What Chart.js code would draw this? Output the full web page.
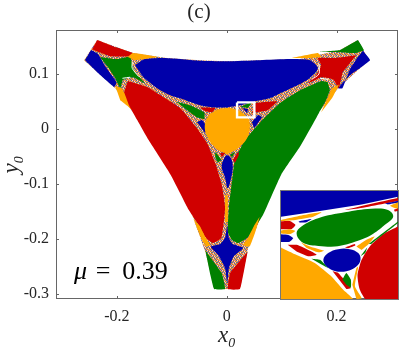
<!DOCTYPE html>
<html lang="en">
<head>
<meta charset="UTF-8">
<title>Basins (c)</title>
<script src="https://cdn.jsdelivr.net/npm/chart.js"></script>
<style>
    body { margin: 0; background: #fff; }
    #wrap { position: relative; width: 399px; height: 350px; }
    #inset { position: absolute; left: 281px; top: 191px; }
    #insetFrame { position: absolute; left: 280px; top: 190px; width: 117px; height: 108px; border: 1px solid #777; }
</style>
</head>
<body>
<div id="wrap">
    <canvas id="main" width="399" height="350"></canvas>
    <div id="insetFrame"></div>
    <canvas id="inset" width="117" height="108"></canvas>
</div>
<script>
    const FONT = '"Liberation Serif", serif';
    const xTicks = [-0.2, 0, 0.2];
    const xTickLabels = ['-0.2', '0', '0.2'];
    const yTicks = [0.1, 0, -0.1, -0.2, -0.3];
    const yTickLabels = ['0.1', '0', '-0.1', '-0.2', '-0.3'];
    const xRange = [-0.311, 0.312];
    const yRange = [-0.31, 0.18];
    const muLabel = ['\u03bc', ' \u200a=\u2009 0.39'];

    // basin outlines, [x0, y0]
    const outline = [[-0.236,0.162],[-0.171,0.138],[-0.109,0.129],[-0.049,0.125],[-0.001,0.123],[0.061,0.125],[0.133,0.127],[0.206,0.143],[0.239,0.162],[0.259,0.125],[0.203,0.074],[0.166,0.029],[0.133,-0.030],[0.097,-0.084],[0.064,-0.157],[0.039,-0.217],[0.030,-0.261],[0.024,-0.292],[-0.023,-0.292],[-0.027,-0.272],[-0.039,-0.224],[-0.063,-0.157],[-0.100,-0.084],[-0.140,-0.021],[-0.167,0.025],[-0.203,0.074],[-0.260,0.125]];
    const bigBlue = [[-0.167,0.116],[-0.149,0.127],[-0.112,0.129],[-0.049,0.124],[-0.001,0.123],[0.061,0.125],[0.115,0.127],[0.152,0.125],[0.166,0.112],[0.164,0.105],[0.148,0.090],[0.130,0.080],[0.102,0.067],[0.079,0.056],[0.048,0.049],[0.024,0.043],[-0.001,0.039],[-0.025,0.039],[-0.049,0.043],[-0.080,0.054],[-0.103,0.061],[-0.127,0.074],[-0.152,0.094]];
    const redTopLeft = [[-0.236,0.162],[-0.203,0.149],[-0.171,0.138],[-0.176,0.132],[-0.211,0.132],[-0.234,0.140],[-0.245,0.145]];
    const blueLeft = [[-0.258,0.125],[-0.247,0.143],[-0.234,0.136],[-0.220,0.112],[-0.201,0.085],[-0.205,0.076],[-0.234,0.101]];
    const greenLeft = [[-0.231,0.131],[-0.200,0.127],[-0.176,0.131],[-0.172,0.116],[-0.167,0.103],[-0.149,0.083],[-0.171,0.094],[-0.189,0.089],[-0.194,0.074],[-0.203,0.092],[-0.216,0.112]];
    const orangeTopLeft = [[-0.180,0.131],[-0.171,0.138],[-0.127,0.131],[-0.152,0.127],[-0.167,0.125]];
    const orangeLowLeft = [[-0.203,0.078],[-0.192,0.074],[-0.174,0.047],[-0.167,0.029],[-0.180,0.041],[-0.194,0.052]];
    const bigRed = [[-0.180,0.087],[-0.145,0.076],[-0.116,0.058],[-0.085,0.038],[-0.054,0.001],[-0.036,-0.026],[-0.021,-0.062],[-0.009,-0.102],[-0.003,-0.143],[-0.005,-0.166],[-0.010,-0.199],[-0.025,-0.208],[-0.039,-0.197],[-0.050,-0.177],[-0.069,-0.148],[-0.102,-0.084],[-0.142,-0.021],[-0.163,0.016],[-0.178,0.043],[-0.187,0.067]];
    const centreStrip = [[-0.003,-0.121],[0.002,-0.121],[0.002,-0.170],[-0.003,-0.170]];
    const greenUpperLeft = [[-0.091,0.049],[-0.067,0.043],[-0.041,0.030],[-0.041,0.018],[-0.054,0.021],[-0.072,0.034]];
    const redUpperLeft = [[-0.049,0.039],[-0.021,0.038],[-0.027,0.030],[-0.039,0.032]];
    const blueUpperLeft = [[-0.054,0.012],[-0.045,0.016],[-0.036,0.001],[-0.039,-0.008]];
    const orangeCircle = [[0.001,0.038],[0.024,0.032],[0.039,0.019],[0.042,0.001],[0.037,-0.017],[0.024,-0.032],[0.010,-0.042],[0.001,-0.046],[-0.009,-0.042],[-0.023,-0.032],[-0.034,-0.017],[-0.040,0.001],[-0.036,0.019],[-0.023,0.032]];
    const bigGreen = [[0.184,0.085],[0.173,0.087],[0.133,0.070],[0.097,0.047],[0.061,0.012],[0.033,-0.021],[0.015,-0.057],[0.010,-0.093],[0.004,-0.143],[0.002,-0.188],[0.010,-0.203],[0.021,-0.208],[0.039,-0.197],[0.066,-0.157],[0.099,-0.084],[0.135,-0.030],[0.168,0.029],[0.180,0.050],[0.188,0.070]];
    const greenTopRight = [[0.239,0.162],[0.250,0.143],[0.234,0.138],[0.197,0.140],[0.170,0.140],[0.206,0.143]];
    const blueTopRight = [[0.248,0.142],[0.261,0.125],[0.225,0.098],[0.203,0.074],[0.211,0.074],[0.225,0.110],[0.239,0.131]];
    const redRight = [[0.236,0.134],[0.197,0.129],[0.166,0.129],[0.172,0.116],[0.163,0.098],[0.148,0.083],[0.173,0.094],[0.194,0.090],[0.204,0.074],[0.211,0.103]];
    const orangeTopRight = [[0.119,0.129],[0.166,0.138],[0.172,0.131],[0.148,0.129]];
    const orangeLowRight = [[0.172,0.030],[0.192,0.074],[0.204,0.080],[0.192,0.056]];
    const redTriangle = [[0.052,0.047],[0.092,0.050],[0.075,0.034],[0.046,0.029]];
    const greenBox = [[0.024,0.040],[0.046,0.049],[0.039,0.038]];
    const blueBox = [[0.028,0.038],[0.039,0.036],[0.037,0.029]];
    const blueRightCircle = [[0.046,0.012],[0.057,0.025],[0.064,0.021],[0.050,0.001]];
    const blueOval = [[0.001,-0.048],[-0.005,-0.054],[-0.009,-0.070],[-0.003,-0.089],[0.002,-0.108],[0.008,-0.089],[0.011,-0.070],[0.008,-0.054]];
    const greenUnderLeft = [[-0.021,-0.042],[-0.010,-0.057],[-0.016,-0.061],[-0.021,-0.052]];
    const redUnderLeft = [[-0.012,-0.044],[-0.003,-0.044],[-0.009,-0.052]];
    const redUnderRight = [[0.011,-0.057],[0.021,-0.042],[0.022,-0.048],[0.015,-0.062]];
    const greenUnderRight = [[0.006,-0.048],[0.015,-0.042],[0.010,-0.052]];
    const blueStar = [[0.001,-0.175],[0.004,-0.199],[0.011,-0.210],[0.030,-0.217],[0.013,-0.232],[0.004,-0.254],[0.001,-0.281],[-0.003,-0.254],[-0.014,-0.232],[-0.029,-0.215],[-0.012,-0.210],[-0.003,-0.199]];
    const greenLow = [[-0.039,-0.221],[-0.009,-0.263],[-0.003,-0.292],[-0.023,-0.292],[-0.031,-0.261]];
    const redLow = [[0.038,-0.224],[0.006,-0.263],[0.002,-0.292],[0.024,-0.292],[0.031,-0.261]];
    const orangeLowA = [[-0.060,-0.165],[-0.049,-0.177],[-0.039,-0.197],[-0.030,-0.212],[-0.036,-0.214],[-0.043,-0.206],[-0.052,-0.186]];
    const orangeLowB = [[0.060,-0.160],[0.052,-0.188],[0.042,-0.214],[0.030,-0.212],[0.038,-0.200],[0.050,-0.176]];

    const seamWhiteA = [[-0.172,0.122],[-0.172,0.110],[-0.160,0.095]];
    const seamWhiteB = [[0.168,0.118],[0.168,0.100],[0.155,0.090]];
    const seamWhiteC = [[-0.190,0.092],[-0.176,0.094]];
    const seamWhiteD = [[0.170,0.092],[0.185,0.090]];

    const zoomBox = [[0.0188,0.0481],[0.0503,0.0481],[0.0503,0.0208],[0.0188,0.0208],[0.0188,0.0481]];

    // inset, x0 and y0 in thousandths
    const insetXRange = [18.8, 50.3];
    const insetYRange = [20.8, 48.1];
    const inBlueTop = [[18,49],[51,49],[51,46.8],[40.5,44.7],[29.7,43.1],[18,41.5]];
    const inRedThin = [[36.0,43.3],[50.3,46.3],[50.3,45.6],[39.6,43.7]];
    const inBlueThin = [[46.7,45.0],[50.3,45.6],[50.3,45.2],[47.6,44.7]];
    const inOrangeTip = [[48.1,44.4],[50.3,45.2],[50.3,43.6],[49.0,43.9]];
    const inRedTip = [[49.2,43.4],[50.3,43.7],[50.3,43.1],[49.4,42.9]];
    const inOrangeTop = [[18.8,40.8],[24.3,41.9],[29.7,42.7],[27.5,41.6],[22.6,40.8],[18.8,40.5]];
    const inBlueStrip = [[23.5,40.4],[27.0,41.0],[25.7,40.2],[23.9,40.1]];
    const inGreen = [[23.0,37.4],[24.3,39.1],[28.8,41.2],[36.0,42.7],[43.1,43.6],[47.6,43.3],[49.0,41.6],[46.7,39.5],[43.1,37.0],[38.7,35.3],[33.3,34.1],[27.9,34.3],[24.3,35.3]];
    const inRedLeft = [[18,40.4],[21.2,40.5],[22.7,39.5],[21.7,38.5],[18,38.4]];
    const inOrangeLeft = [[18,38.0],[21.2,38.4],[22.6,38.0],[21.2,37.2],[18,37.4]];
    const inBlueLeft = [[18,37.2],[20.8,37.0],[22.1,36.2],[21.2,35.3],[18,35.2]];
    const inRedStripe = [[20.6,34.5],[23.0,34.5],[26.6,33.0],[28.4,32.0],[26.1,31.6],[23.0,32.8]];
    const inOrangeStripe = [[24.2,35.1],[26.6,34.1],[30.4,33.0],[28.8,32.6],[25.7,33.7]];
    const inOrangeBig = [[18,34.2],[22.6,32.1],[27.9,29.9],[32.4,26.5],[35.5,23.2],[38.4,20.4],[18,20]];
    const inGreenThin = [[27.0,31.0],[29.3,30.7],[31.5,28.6],[29.7,29.5]];
    const inRedLow = [[32.7,27.8],[34.2,27.4],[37.6,23.6],[36.4,23.3]];
    const inBlueCentre = [[30.2,30.7],[31.5,32.4],[34.2,33.4],[37.3,33.4],[39.6,32.4],[40.2,30.7],[39.1,29.0],[36.4,27.8],[33.3,27.9],[31.1,29.0]];
    const inRedSmall = [[36.0,33.8],[38.7,34.7],[38.8,34.3],[36.9,33.6]];
    const inOrangeSmall = [[39.1,34.1],[41.8,35.8],[44.0,36.6],[42.2,34.5],[40.5,33.2]];
    const inGreenLow = [[35.3,25.7],[36.4,27.4],[37.6,25.7],[37.6,23.7],[36.4,24.4]];
    const inOrangeRight = [[38.0,24.4],[39.1,28.6],[39.6,29.0],[38.7,24.0],[40.5,21.0],[39.1,20.8]];
    const inRedBig = [[50.3,39.1],[46.7,37.4],[42.7,34.1],[40.5,30.7],[39.4,26.9],[40.0,23.2],[42,20.4],[51,20],[51,39.2]];
    const inGreenEdge = [[40.3,31.7],[42.0,33.8],[41.5,32.4]];
    const inGreenRight = [[42.4,34.7],[50.3,40.4],[50.3,40.0],[43.1,34.7]];

    const BLUE = '#0000aa', RED = '#d00000', GREEN = '#008000', ORANGE = '#ffa800';

    // speckle for the fractal seams, softened since they blur together at this size
    function speckle() {
        const a = '#e8a850', b = '#5858b8', c = '#d86848', d = '#f4dcc0', e = '#70905c';
        const cells = [
            [a, b, d, c, a],
            [c, a, a, b, d],
            [d, e, b, a, c],
            [a, c, a, d, b],
            [b, a, c, a, a]
        ];
        const tile = document.createElement('canvas');
        tile.width = tile.height = 5;
        const g = tile.getContext('2d');
        cells.forEach((row, j) => row.forEach((col, i) => {
            g.fillStyle = col;
            g.fillRect(i, j, 1, 1);
        }));
        return g.createPattern(tile, 'repeat');
    }

    function toPoints(list) {
        return list.map(p => ({ x: p[0], y: p[1] }));
    }

    function region(list, color, tension) {
        const t = tension === undefined ? 0.15 : tension;
        // ovals: wrap the ends so the curve has no corner where it closes
        const pts = t >= 0.3 ? [list[list.length - 1], ...list, list[0], list[1]] : list;
        return { data: toPoints(pts), showLine: true, fill: 'shape', backgroundColor: color, borderWidth: 0, pointRadius: 0, tension: t };
    }

    function seam(list, color) {
        return { data: toPoints(list), showLine: true, fill: false, borderColor: color, borderWidth: 1, pointRadius: 0, tension: 0.3 };
    }

    // painted in this order, later entries on top
    const mainSets = [
        region(outline, speckle(), 0),
        region(bigBlue, BLUE, 0.2), region(redTopLeft, RED, 0.1), region(blueLeft, BLUE, 0.1), region(greenLeft, GREEN),
        region(orangeTopLeft, ORANGE, 0.1), region(orangeLowLeft, ORANGE, 0.1), region(bigRed, RED, 0.15), region(centreStrip, ORANGE, 0),
        region(greenUpperLeft, GREEN), region(redUpperLeft, RED), region(blueUpperLeft, BLUE),
        region(bigGreen, GREEN, 0.15), region(greenTopRight, GREEN, 0.1), region(blueTopRight, BLUE, 0.1), region(redRight, RED),
        region(orangeTopRight, ORANGE, 0.1), region(orangeLowRight, ORANGE, 0.1), region(redTriangle, RED, 0.1), region(greenBox, GREEN, 0.1), region(blueBox, BLUE, 0.1),
        region(blueRightCircle, BLUE), region(orangeCircle, ORANGE, 0.4), region(blueOval, BLUE, 0.4),
        region(greenUnderLeft, GREEN), region(redUnderLeft, RED), region(redUnderRight, RED), region(greenUnderRight, GREEN),
        region(blueStar, BLUE, 0.15), region(greenLow, GREEN, 0.1), region(redLow, RED, 0.1), region(orangeLowA, ORANGE, 0.1), region(orangeLowB, ORANGE, 0.1),
        seam(seamWhiteA, '#fff'), seam(seamWhiteB, '#fff'), seam(seamWhiteC, '#fff'), seam(seamWhiteD, '#fff'),
        { data: toPoints(zoomBox), showLine: true, fill: false, borderColor: '#fff', borderWidth: 2.4, pointRadius: 0, tension: 0 }
    ];

    const insetSets = [
        region(inBlueTop, BLUE, 0), region(inRedThin, RED, 0.1), region(inBlueThin, BLUE, 0.1), region(inOrangeTip, ORANGE), region(inRedTip, RED),
        region(inOrangeTop, ORANGE, 0.2), region(inBlueStrip, BLUE), region(inGreen, GREEN, 0.4), region(inRedLeft, RED), region(inOrangeLeft, ORANGE), region(inBlueLeft, BLUE),
        region(inRedStripe, RED), region(inOrangeStripe, ORANGE), region(inOrangeBig, ORANGE, 0.15), region(inGreenThin, GREEN), region(inRedLow, RED),
        region(inBlueCentre, BLUE, 0.4), region(inRedSmall, RED), region(inOrangeSmall, ORANGE), region(inGreenLow, GREEN), region(inOrangeRight, ORANGE),
        region(inRedBig, RED, 0.2), region(inGreenEdge, GREEN), region(inGreenRight, GREEN, 0.1)
    ];

    function paintOrder(sets) {
        sets.forEach((d, i) => { d.order = sets.length - i; });
        return sets;
    }

    // matlab style box with inward ticks
    const framePlugin = {
        id: 'frame',
        afterDraw(chart) {
            const { ctx, chartArea: a, scales } = chart;
            ctx.save();
            ctx.strokeStyle = '#666';
            ctx.lineWidth = 1;
            ctx.strokeRect(a.left + 0.5, a.top + 0.5, a.right - a.left - 1, a.bottom - a.top - 1);
            ctx.beginPath();
            xTicks.forEach(v => {
                const px = Math.round(scales.x.getPixelForValue(v)) + 0.5;
                ctx.moveTo(px, a.top); ctx.lineTo(px, a.top + 3);
                ctx.moveTo(px, a.bottom); ctx.lineTo(px, a.bottom - 3);
            });
            yTicks.forEach(v => {
                const py = Math.round(scales.y.getPixelForValue(v)) + 0.5;
                ctx.moveTo(a.left, py); ctx.lineTo(a.left + 3, py);
                ctx.moveTo(a.right, py); ctx.lineTo(a.right - 3, py);
            });
            ctx.stroke();
            // mu label, anchored in data space
            const tx = scales.x.getPixelForValue(-0.278);
            const ty = scales.y.getPixelForValue(-0.273);
            ctx.fillStyle = '#000';
            ctx.textBaseline = 'alphabetic';
            ctx.font = 'italic 26px ' + FONT;
            ctx.fillText(muLabel[0], tx, ty);
            const w = ctx.measureText(muLabel[0]).width;
            ctx.font = '26px ' + FONT;
            ctx.fillText(muLabel[1], tx + w, ty);
            ctx.restore();
        }
    };

    new Chart(document.getElementById('main'), {
        type: 'scatter',
        data: { datasets: paintOrder(mainSets) },
        plugins: [framePlugin],
        options: {
            responsive: false,
            animation: false,
            layout: { padding: { right: 1 } },
            plugins: {
                legend: { display: false },
                tooltip: { enabled: false },
                title: { display: true, text: '(c)', color: '#262626', font: { family: FONT, size: 21, weight: 'normal' }, padding: { top: 0, bottom: 4.8 } }
            },
            scales: {
                x: {
                    min: xRange[0], max: xRange[1],
                    grid: { display: false, drawTicks: false },
                    border: { display: false },
                    afterBuildTicks: s => { s.ticks = xTicks.map(v => ({ value: v })); },
                    afterFit: s => { s.height = 51; },
                    ticks: { maxRotation: 0, padding: 8, color: '#262626', font: { family: FONT, size: 16 }, callback: (v, i) => xTickLabels[i] },
                    title: { display: true, text: 'x\u2080', color: '#262626', font: { family: FONT, size: 23, style: 'italic', lineHeight: 1.2 }, padding: 0 }
                },
                y: {
                    min: yRange[0], max: yRange[1],
                    grid: { display: false, drawTicks: false },
                    border: { display: false },
                    afterBuildTicks: s => { s.ticks = yTicks.map(v => ({ value: v })); },
                    afterFit: s => { s.width = 56; },
                    ticks: { padding: 7, color: '#262626', font: { family: FONT, size: 16 }, callback: (v, i) => yTickLabels[i] },
                    title: { display: true, text: 'y\u2080', color: '#262626', font: { family: FONT, size: 23, style: 'italic', lineHeight: 1 }, padding: 0 }
                }
            }
        }
    });

    new Chart(document.getElementById('inset'), {
        type: 'scatter',
        data: { datasets: paintOrder(insetSets) },
        options: {
            responsive: false,
            animation: false,
            plugins: { legend: { display: false }, tooltip: { enabled: false } },
            scales: {
                x: { display: false, min: insetXRange[0], max: insetXRange[1] },
                y: { display: false, min: insetYRange[0], max: insetYRange[1] }
            }
        }
    });
</script>
</body>
</html>
